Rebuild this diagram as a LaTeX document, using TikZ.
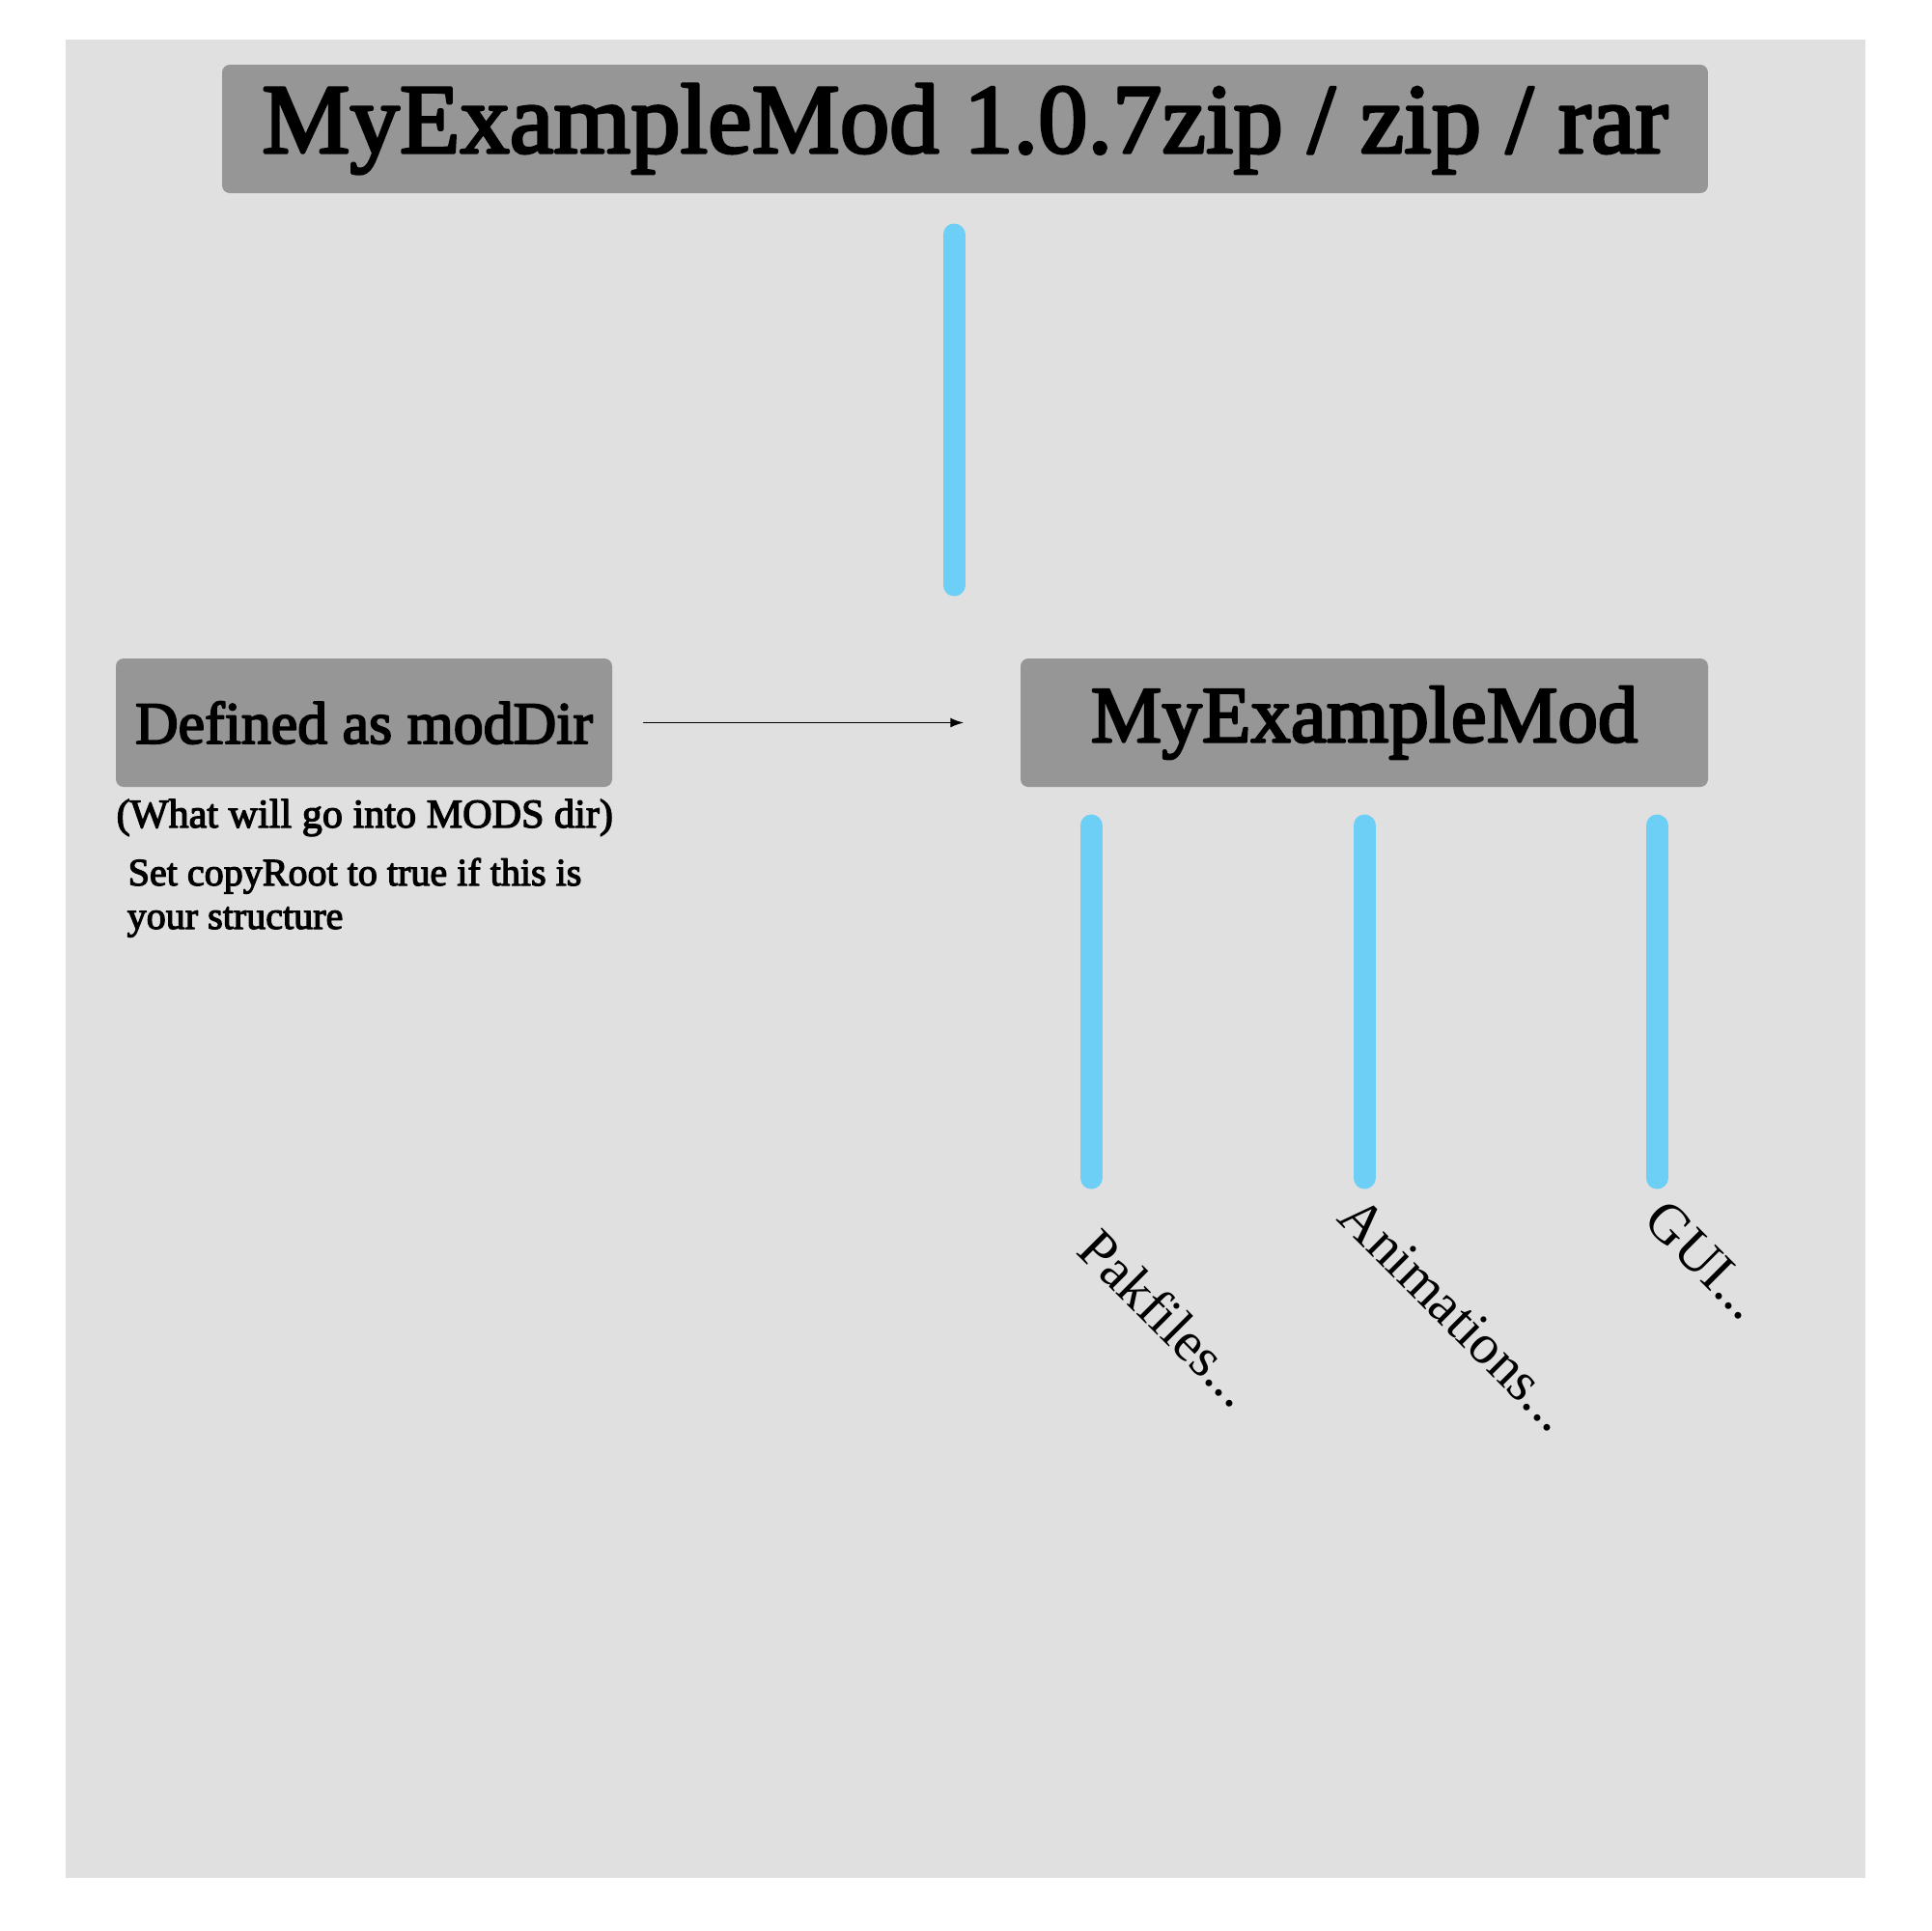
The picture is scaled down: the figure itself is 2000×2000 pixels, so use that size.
\documentclass[tikz,border=0pt]{standalone}
\usepackage{fontspec}
\setmainfont{Liberation Serif}
\newfontfamily\semibold[FakeBold=3]{Liberation Serif}
\usetikzlibrary{arrows.meta}
\definecolor{fond}{RGB}{224,224,224}
\definecolor{boxgray}{RGB}{150,150,150}
\definecolor{barblue}{RGB}{110,207,246}
\begin{document}
\begin{tikzpicture}[line cap=round,line join=round,x=0.1mm,y=-0.1mm,
		box/.style={fill=boxgray,rounded corners=0.8mm,inner sep=0,minimum height=13.3mm,align=center},
		note/.style={inner sep=0,anchor=base west},
		bar/.style={draw=barblue,line width=2.3mm,line cap=round},
		lbl/.style={inner sep=0,anchor=base west,rotate=-45,font=\fontsize{16.5}{20}\selectfont}]
			\useasboundingbox (0,0) rectangle (2000,2000);
			\fill[fond] (68,41) rectangle (1932,1945);
			%Archive
			\node[box,minimum width=153.9mm,font=\semibold\fontsize{29.2}{35}\selectfont] (zip) at (999.5,133.5) {MyExampleMod 1.0.7zip / zip / rar};
			%Dossier du mod
			\node[box,minimum width=71.2mm,font=\semibold\fontsize{23.6}{28}\selectfont] (mod) at (1413,748.5) {MyExampleMod};
			\node[box,minimum width=51.4mm,font=\semibold\fontsize{17.6}{21}\selectfont] (moddir) at (377,748.5) {Defined as modDir};
			\draw[-{Latex[length=1.4mm,width=1mm]},line width=0.5pt,shorten <=3.2mm,shorten >=5.8mm] (moddir.east) -- (mod.west);
			%Notes
			\node[note,font=\semibold\fontsize{12}{15}\selectfont] (what) at (120,857) {(What will go into MODS dir)};
			\node[note,font=\semibold\fontsize{11.4}{13}\selectfont] (copy) at (132,917) {Set copyRoot to true if this is};
			\node[note,font=\semibold\fontsize{11.4}{13}\selectfont] (copy2) at (131,962) {your structure};
			%Barres
			\coordinate (zipTop) at (988,243);
			\coordinate (zipBot) at (988,606);
			\draw[bar] (zipTop) -- (zipBot);
			\foreach \n/\x in {pak/1130,anim/1413,gui/1716}{
				\coordinate (\n Top) at (\x,855);
				\coordinate (\n Bot) at (\x,1220);
				\draw[bar] (\n Top) -- (\n Bot);
			}
			%Sous-dossiers
			\node[lbl] (pak) at (1113,1297) {Pakfiles...};
			\node[lbl] (anim) at (1383,1263) {Animations...};
			\node[lbl] (gui) at (1700,1266) {GUI...};
	\end{tikzpicture}
\end{document}
